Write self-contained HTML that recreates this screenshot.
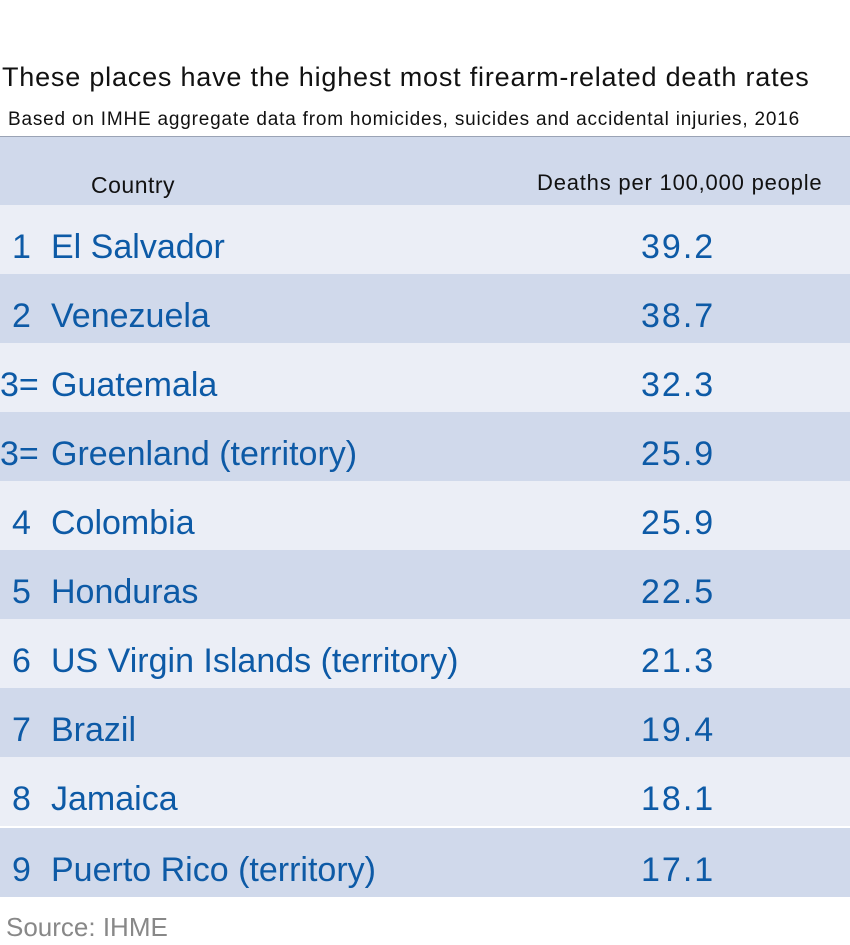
<!DOCTYPE html>
<html><head><meta charset="utf-8"><style>
body{margin:0;width:850px;height:945px;background:#fff;font-family:"Liberation Sans",sans-serif;position:relative;overflow:hidden}
.t{position:absolute;white-space:nowrap}
.row{position:absolute;left:0;width:850px;height:69px}
.l{background:#ebeef6}.d{background:#d0d9eb}
.n,.c,.v{position:absolute;top:22px;font-size:34px;color:#0d5aa6;line-height:40px;white-space:nowrap}
.n{left:12px}.c{left:51px}.v{left:641px;letter-spacing:2px}
</style></head><body>
<div class="t" style="left:2px;top:62px;font-size:27px;color:#111;letter-spacing:0.8px">These places have the highest most firearm-related death rates</div>
<div class="t" style="left:8px;top:109px;font-size:19px;color:#111;letter-spacing:0.8px">Based on IMHE aggregate data from homicides, suicides and accidental injuries, 2016</div>
<div style="position:absolute;left:0;top:136px;width:850px;height:1px;background:#9aa3b5"></div>
<div class="row d" style="top:137px;height:68px"><div class="t" style="left:91px;top:35px;font-size:23px;color:#111;letter-spacing:0.5px">Country</div><div class="t" style="left:537px;top:33px;font-size:22px;color:#111;letter-spacing:0.8px">Deaths per 100,000 people</div></div>
<div class="row l" style="top:205px"><span class="n">1</span><span class="c">El Salvador</span><span class="v">39.2</span></div>
<div class="row d" style="top:274px"><span class="n">2</span><span class="c">Venezuela</span><span class="v">38.7</span></div>
<div class="row l" style="top:343px"><span class="n" style="left:0">3=</span><span class="c">Guatemala</span><span class="v">32.3</span></div>
<div class="row d" style="top:412px"><span class="n" style="left:0">3=</span><span class="c">Greenland (territory)</span><span class="v">25.9</span></div>
<div class="row l" style="top:481px"><span class="n">4</span><span class="c">Colombia</span><span class="v">25.9</span></div>
<div class="row d" style="top:550px"><span class="n">5</span><span class="c">Honduras</span><span class="v">22.5</span></div>
<div class="row l" style="top:619px"><span class="n">6</span><span class="c">US Virgin Islands (territory)</span><span class="v">21.3</span></div>
<div class="row d" style="top:688px"><span class="n">7</span><span class="c">Brazil</span><span class="v">19.4</span></div>
<div class="row l" style="top:757px"><span class="n">8</span><span class="c">Jamaica</span><span class="v">18.1</span></div>
<div class="row d" style="top:828px"><span class="n">9</span><span class="c">Puerto Rico (territory)</span><span class="v">17.1</span></div>
<div class="t" style="left:6px;top:912px;font-size:26px;color:#888">Source: IHME</div>
</body></html>
